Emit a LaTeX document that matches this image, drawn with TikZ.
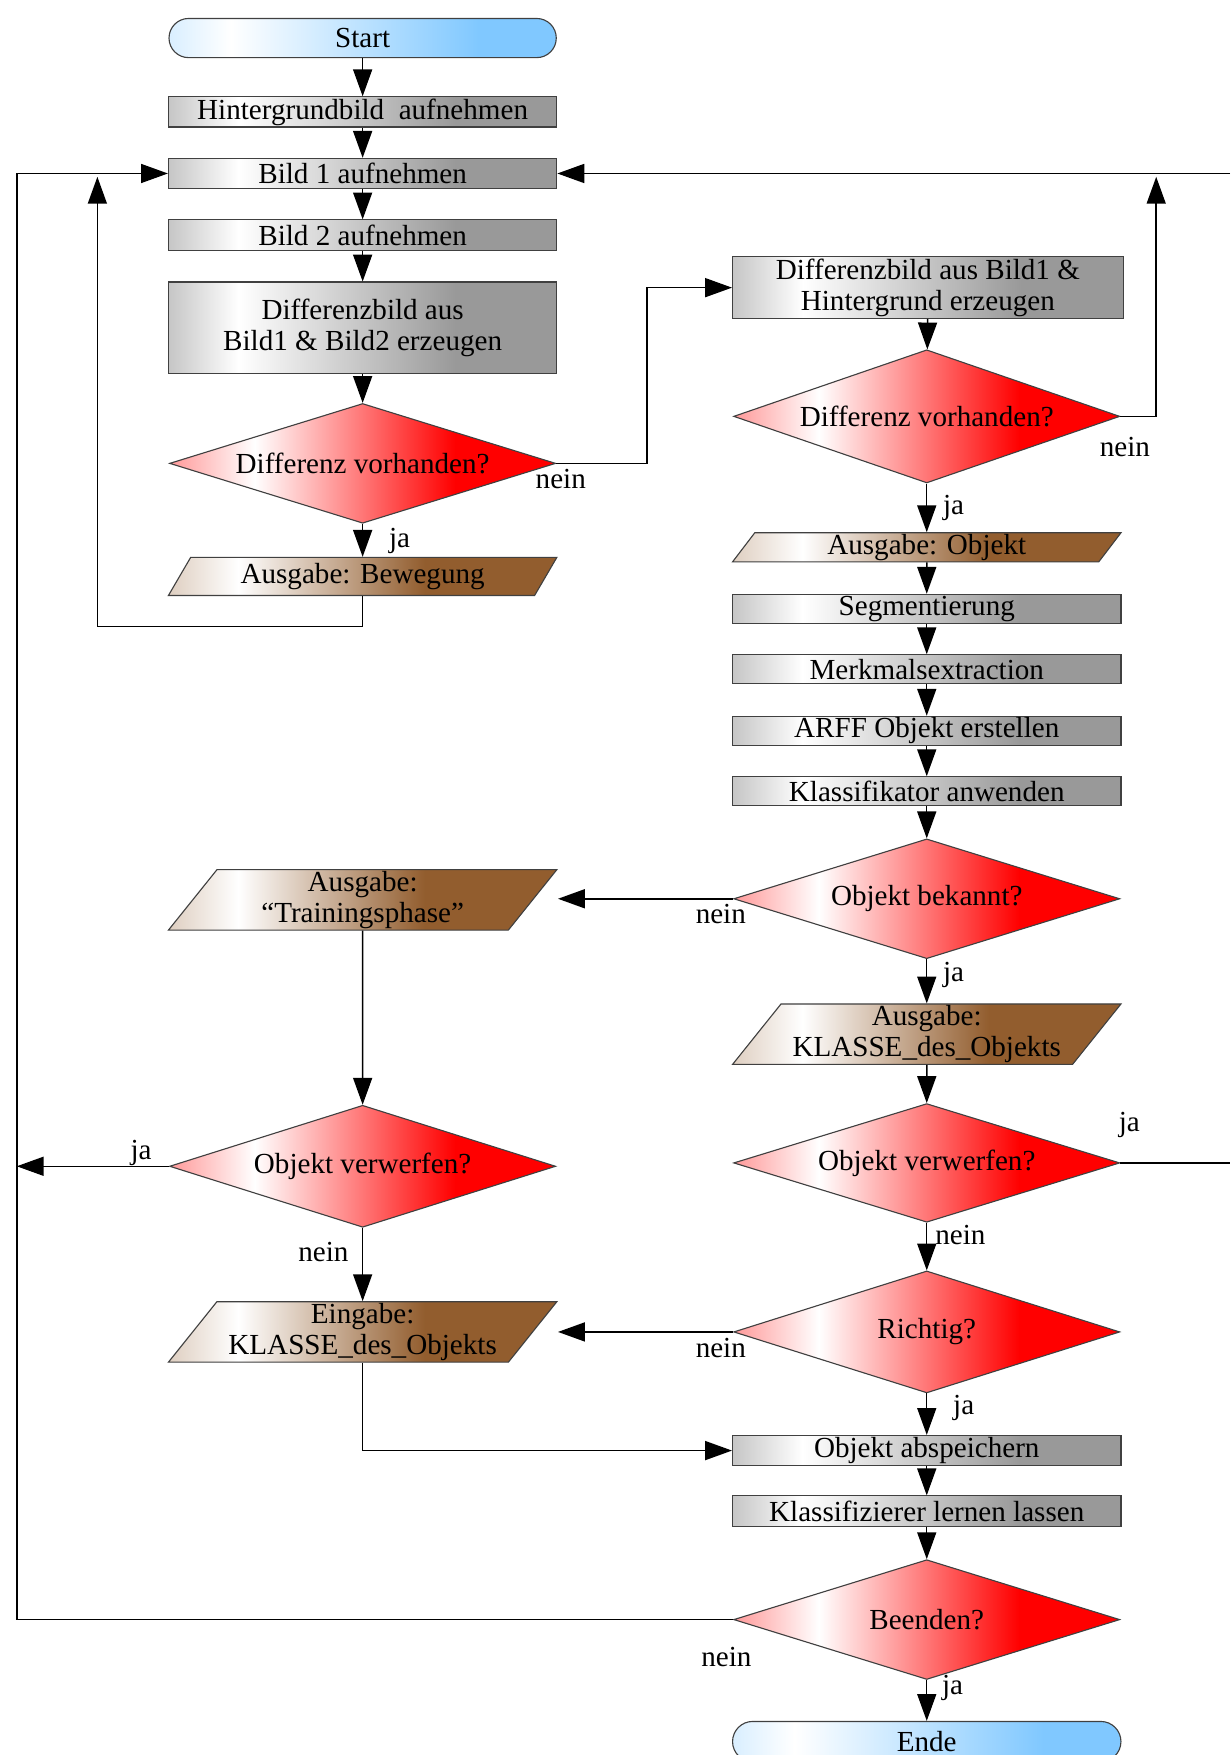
\documentclass[tikz,border=0pt]{standalone}
\usepackage{fontspec}
\setmainfont{Liberation Serif}
\usepackage{tikz}
\usetikzlibrary{arrows.meta}
\tikzset{>={Triangle[length=24pt,width=17pt]}}
\usetikzlibrary{shapes.geometric,shapes.misc,positioning}

\definecolor{brn}{RGB}{146,93,46}
\definecolor{sky}{RGB}{128,200,255}
\pgfdeclarehorizontalshading{grayshade}{100bp}{color(0bp)=(gray!45); color(25bp)=(gray!45); color(34bp)=(white); color(62bp)=(gray!80); color(100bp)=(gray!80)}
\pgfdeclarehorizontalshading{redshade}{100bp}{color(0bp)=(red!40); color(25bp)=(red!40); color(36bp)=(white); color(62bp)=(red); color(100bp)=(red)}
\pgfdeclarehorizontalshading{brnshade}{100bp}{color(0bp)=(brn!30); color(25bp)=(brn!30); color(34bp)=(white); color(58bp)=(brn); color(100bp)=(brn)}
\pgfdeclarehorizontalshading{skyshade}{100bp}{color(0bp)=(sky!30); color(25bp)=(sky!30); color(33bp)=(white); color(65bp)=(sky); color(100bp)=(sky)}

\tikzset{
    proc/.style={draw=black!75, line width=1pt, shade, shading=grayshade, minimum width=347pt, minimum height=27pt, inner sep=0pt, align=center},
    dec/.style={diamond, shape aspect=3.25, draw=black!75, line width=1pt, shade, shading=redshade, minimum width=345pt, minimum height=107pt, inner sep=0pt, align=center},
    io/.style={trapezium, trapezium left angle=50, trapezium right angle=130, trapezium stretches body, draw=black!75, line width=1pt, shade, shading=brnshade, minimum width=347pt, minimum height=34pt, inner sep=0pt, align=center},
    term/.style={rounded rectangle, draw=black!75, line width=1pt, shade, shading=skyshade, minimum width=346pt, minimum height=35pt, inner sep=0pt},
    lbl/.style={inner sep=0pt},
    flow/.style={->, line width=1.3pt}
}

\begin{document}
\begin{tikzpicture}[x=1pt, y=-1pt, font=\fontsize{26}{28}\selectfont]
    \useasboundingbox (0,0) rectangle (1099,1568);
    \fill[white] (0,0) rectangle (1099,1568);
    \clip (0,0) rectangle (1099,1568);
    % left column
    \node[term] at (324,34) (start) {Start};
    \node[proc] at (324,100) (hgbild) {Hintergrundbild\ \ aufnehmen};
    \node[proc] at (324,155) (bild1) {Bild 1 aufnehmen};
    \node[proc] at (324,210) (bild2) {Bild 2 aufnehmen};
    \node[proc, minimum height=82pt] at (324,293) (diffL) {Differenzbild aus\\Bild1 \& Bild2 erzeugen};
    \node[dec] at (324,414) (difL) {Differenz vorhanden?};
    \node[io] at (324,515) (ausBew) {Ausgabe: Bewegung};
    \node[io, minimum height=54pt] at (324,804) (train) {Ausgabe:\\“Trainingsphase”};
    \node[dec, minimum height=109pt] at (324,1042) (verwL) {Objekt verwerfen?};
    \node[io, minimum height=54pt] at (324,1190) (eingabe) {Eingabe:\\KLASSE\_des\_Objekts};
    % right column
    \node[proc, minimum width=349pt, minimum height=55pt] at (829,257) (diffR) {Differenzbild aus Bild1 \&\\Hintergrund erzeugen};
    \node[dec, minimum height=119pt] at (828,372) (difR) {Differenz vorhanden?};
    \node[io, minimum height=26pt] at (828,489) (ausObj) {Ausgabe: Objekt};
    \node[proc, minimum height=26pt] at (828,544) (segm) {Segmentierung};
    \node[proc, minimum height=26pt] at (828,598) (merkm) {Merkmalsextraction};
    \node[proc, minimum height=26pt] at (828,653) (arff) {ARFF Objekt erstellen};
    \node[proc, minimum height=26pt] at (828,707) (klass) {Klassifikator anwenden};
    \node[dec] at (828,803) (bekannt) {Objekt bekannt?};
    \node[io, minimum height=54pt] at (828,924) (klasseR) {Ausgabe:\\KLASSE\_des\_Objekts};
    \node[dec, minimum height=106pt] at (828,1039) (verwR) {Objekt verwerfen?};
    \node[dec, minimum height=109pt] at (828,1190) (richtig) {Richtig?};
    \node[proc] at (828,1296) (absp) {Objekt abspeichern};
    \node[proc] at (828,1350) (lernen) {Klassifizierer lernen lassen};
    \node[dec] at (828,1447) (beenden) {Beenden?};
    \node[term, minimum width=347pt, minimum height=36pt] at (828,1556) (ende) {Ende};
    % rails
    \coordinate (railL) at (15,0);
    \coordinate (loopL) at (87,0);
    \coordinate (railM) at (1033,0);
    \coordinate (railR) at (1099,0);
    % straight arrows
    \path[flow]
    (start) edge (hgbild)
    (hgbild) edge (bild1)
    (bild1) edge (bild2)
    (bild2) edge (diffL)
    (diffL) edge (difL)
    (difL) edge (ausBew)
    (diffR) edge (difR)
    (difR) edge (ausObj)
    (ausObj) edge (segm)
    (segm) edge (merkm)
    (merkm) edge (arff)
    (arff) edge (klass)
    (klass) edge (bekannt)
    (bekannt) edge (klasseR)
    (klasseR) edge (verwR)
    (verwR) edge (richtig)
    (richtig) edge (absp)
    (absp) edge (lernen)
    (lernen) edge (beenden)
    (beenden) edge (ende)
    (train) edge (verwL)
    (verwL) edge (eingabe)
    ;
    % routed arrows
    \draw[flow] (ausBew.south) -- ++(0,27) -| ([yshift=-3pt]loopL |- bild1.west);
    \draw[flow] (beenden.west) -- (beenden.west -| railL) |- (bild1.west);
    \draw[flow] (verwL.west) -- (verwL.west -| railL);
    \draw[flow] (bild1.east -| railR) -- (bild1.east);
    \draw[flow] (difR.east) -| ([yshift=-3pt]railM |- bild1.east);
    \draw[flow] (difL.east) -- ++(81,0) |- (diffR.west);
    \draw[flow] (bekannt.west) -- (bekannt.west -| train.top right corner);
    \draw[flow] (richtig.west) -- (richtig.west -| eingabe.top right corner);
    \draw[flow] (eingabe.south) |- (absp.west);
    \draw[line width=1.3pt] (verwR.east) -- (verwR.east -| railR);
    % labels
    \node[lbl] at (501,428) (l1) {nein};
    \node[lbl] at (357,483) (l2) {ja};
    \node[lbl] at (1005,399) (l3) {nein};
    \node[lbl] at (852,454) (l4) {ja};
    \node[lbl] at (644,817) (l5) {nein};
    \node[lbl] at (852,871) (l6) {ja};
    \node[lbl] at (1009,1005) (l7) {ja};
    \node[lbl] at (858,1103) (l8) {nein};
    \node[lbl] at (126,1030) (l9) {ja};
    \node[lbl] at (289,1119) (l10) {nein};
    \node[lbl] at (644,1204) (l11) {nein};
    \node[lbl] at (861,1258) (l12) {ja};
    \node[lbl] at (649,1480) (l13) {nein};
    \node[lbl] at (851,1508) (l14) {ja};
\end{tikzpicture}
\end{document}
